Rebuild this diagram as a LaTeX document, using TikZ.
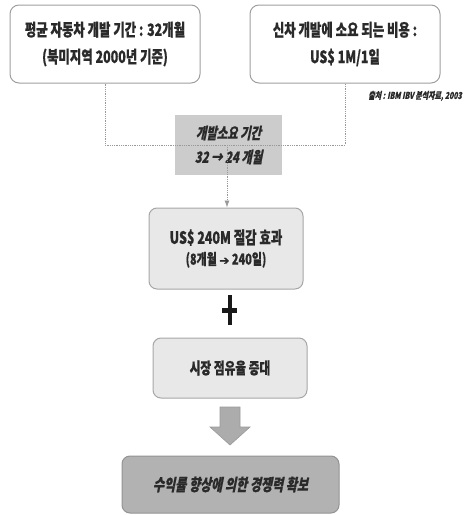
\documentclass[tikz,border=0pt]{standalone}
\usepackage{fontspec}
\newfontfamily\kr{Noto Sans CJK KR}[FakeStretch=0.73,FakeBold=0.6]
\newfontfamily\krit{Noto Sans CJK KR}[FakeStretch=0.73,FakeSlant=0.2,FakeBold=0.6]
\newfontfamily\dv{DejaVu Sans}[FakeBold=1.5]
\usetikzlibrary{arrows.meta}
\definecolor{txt}{HTML}{2a2a2a}
\tikzset{
  wbox/.style={draw=gray!75, line width=1pt, rounded corners=9pt, fill=white, align=center, text=txt, font=\kr\bfseries\fontsize{17}{27}\selectfont, inner sep=0pt},
  lbox/.style={draw=gray!70, line width=1pt, rounded corners=8pt, fill=gray!18, align=center, text=txt, inner sep=0pt},
  dbox/.style={draw=gray!85, line width=1pt, rounded corners=8pt, fill=gray!60, align=center, text=txt, inner sep=0pt},
  dotline/.style={gray!80, densely dotted, line width=0.8pt},
}
\begin{document}
\begin{tikzpicture}[x=1pt,y=-1pt]
\useasboundingbox (0,0) rectangle (464,515);
\node[wbox, minimum width=190pt, minimum height=78pt] (b1) at (105,44) {평균 자동차 개발 기간 : 32개월\\(북미지역 2000년 기준)};
\node[wbox, minimum width=190pt, minimum height=78pt] (b2) at (345,44) {신차 개발에 소요 되는 비용 :\\US\$ 1M/1일};
\node[anchor=east, text=txt, font=\krit\bfseries\fontsize{9.5}{11}\selectfont, inner sep=0pt] (src) at (462,96) {출처 : IBM IBV 분석자료, 2003};
\node[fill=gray!40, minimum width=107pt, minimum height=60pt, align=center, text=txt, inner sep=0pt, font=\krit\bfseries\fontsize{15.5}{24}\selectfont] (g) at (228.5,145) {개발소요 기간\\32 → 24 개월};
\coordinate (j) at (227,145);
\coordinate (l) at (105,145);
\coordinate (r) at (345,145);
\draw[dotline] (b1.south -| l) -- (l) -- (r) -- (b2.south -| r);
\node[lbox, minimum width=154pt, minimum height=81pt] (b3) at (226,248.5) {{\kr\bfseries\fontsize{17}{22}\selectfont US\$ 240M 절감 효과}\\[5pt]{\kr\bfseries\fontsize{15}{16}\selectfont (8개월 {\dv\fontsize{12}{12}\selectfont ➔} 240일)}};
\draw[dotline, -{Latex[length=7pt,width=5pt]}] (j) -- (j |- b3.north);
\node[minimum width=14pt, minimum height=30pt, inner sep=0pt] (plus) at (229.5,310) {};
\fill[black!90] (plus.west |- 0,307.5) rectangle (plus.east |- 0,313);
\fill[black!90] (227.5,295) rectangle (231.5,325);
\node[lbox, minimum width=154pt, minimum height=60pt, font=\kr\bfseries\fontsize{16}{18}\selectfont] (b4) at (230,368) {시장 점유율 증대};
\draw[fill=gray!65, draw=gray!80, line width=0.6pt] (220,407) -- (240,407) -- (240,427) -- (250,427) -- (230,445) -- (210,427) -- (220,427) -- cycle;
\node[dbox, minimum width=217pt, minimum height=57pt, font=\krit\bfseries\fontsize{16.5}{18}\selectfont] (b5) at (230.5,484.5) {수익률 향상에 의한 경쟁력 확보};
\end{tikzpicture}
\end{document}
